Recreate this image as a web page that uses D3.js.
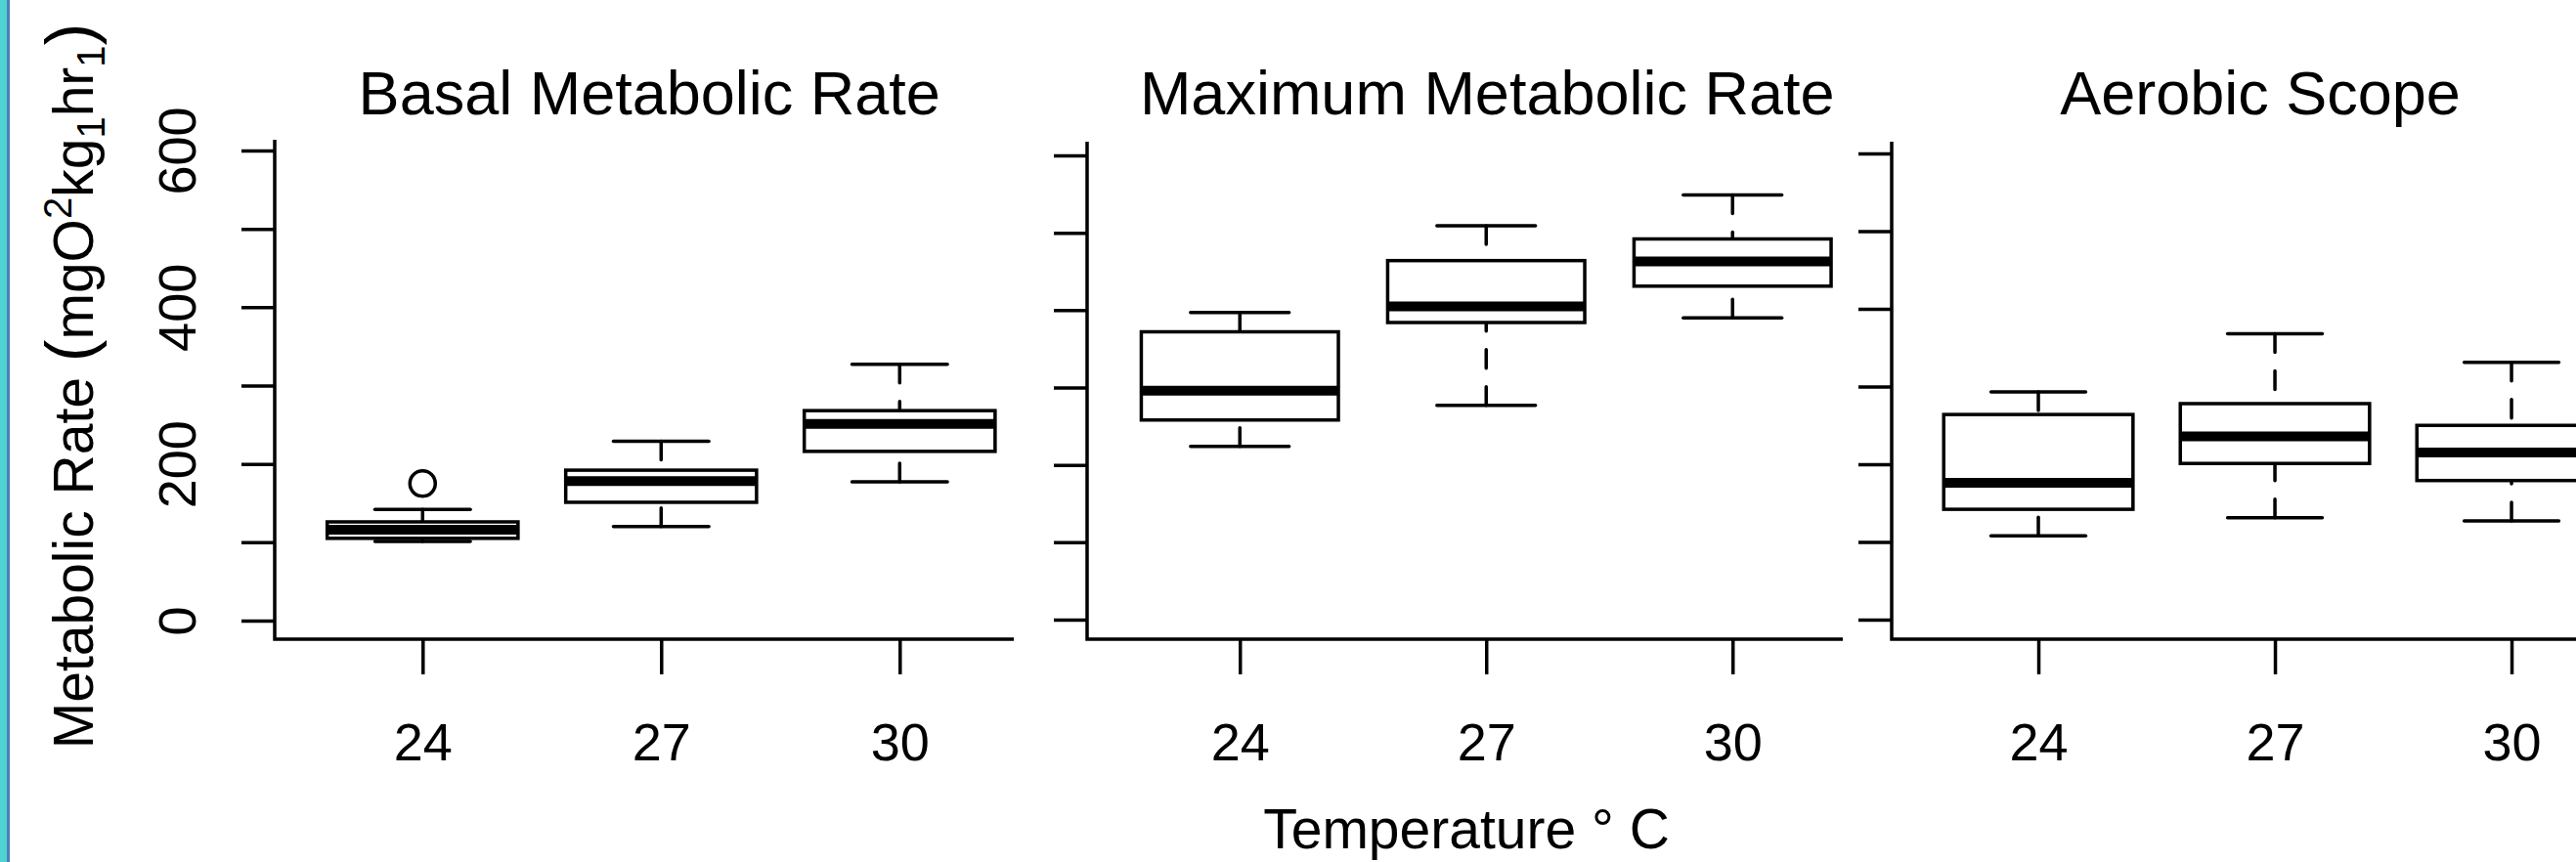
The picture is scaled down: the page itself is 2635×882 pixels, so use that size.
<!DOCTYPE html>
<meta charset='utf-8'>
<head>
  <title>Metabolic rate boxplots</title>
</head>

<style>
body {
  margin: 0;
  background: white;
}

text {
  font-family: "Liberation Sans", Arial, Helvetica, sans-serif;
  fill: black;
}

.tick line, .axis-line {
  stroke: black;
  stroke-width: 3.5px;
}

.whisker {
  stroke: black;
  stroke-width: 3.5px;
  stroke-dasharray: 19 19;
  stroke-linecap: round;
}

.staple {
  stroke: black;
  stroke-width: 3.5px;
  stroke-linecap: round;
}

.box {
  fill: white;
  stroke: black;
  stroke-width: 3.5px;
}

.median {
  stroke: black;
  stroke-width: 10px;
}

.outlier {
  fill: none;
  stroke: black;
  stroke-width: 3.5px;
}
</style>

<body>
  <svg width='2635' height='882'></svg>

  <script src='https://cdn.jsdelivr.net/npm/d3@7'></script>
  <script>
var temps = ['24', '27', '30'];
var panelTitles = ['Basal Metabolic Rate', 'Maximum Metabolic Rate', 'Aerobic Scope'];
var yTicks = [0, 100, 200, 300, 400, 500, 600];
var yTickLabels = {0: '0', 200: '200', 400: '400', 600: '600'};

// [lower whisker, Q1, median, Q3, upper whisker] per temperature
var basalStats = [[101, 105, 116, 126, 142], [120, 151, 178, 192, 229], [177, 216, 251, 268, 327]];
var basalOutliers = [[175], [], []];
var maxStats = [[224, 258, 296, 372, 397], [277, 384, 405, 464, 509], [390, 431, 463, 492, 549]];
var maxOutliers = [[], [], []];
var scopeStats = [[108, 142, 176, 264, 293], [131, 201, 236, 278, 368], [127, 179, 215, 250, 331]];
var scopeOutliers = [[], [], []];

var panelStats = [basalStats, maxStats, scopeStats];
var panelOutliers = [basalOutliers, maxOutliers, scopeOutliers];

// layout of the three plot regions (pixels)
var panels = [
  {left: 281, unit: 244, axisEnd: 1037, y0: 635, y600: 154, yTop: 143, titleShift: -12},
  {left: 1112, unit: 252, axisEnd: 1885, y0: 634, y600: 159, yTop: 145, titleShift: 1},
  {left: 1935, unit: 242, axisEnd: 2635, y0: 634, y600: 157, yTop: 145, titleShift: -15}
];
var axisY = 654;

var svg = d3.select('svg');

svg.append('rect').attr('width', 2635).attr('height', 882).attr('fill', 'white');

// coloured strip on the left edge
svg.append('rect').attr('x', 0).attr('y', 0).attr('width', 7).attr('height', 882).attr('fill', '#4fd3d0');
svg.append('rect').attr('x', 7).attr('y', 0).attr('width', 3).attr('height', 882).attr('fill', '#4b7fba');

panels.forEach(function(p, pi) {
  var x = d3.scaleLinear()
    .domain([1, 3])
    .range([p.left + 0.62 * p.unit, p.left + 2.62 * p.unit]);
  var y = d3.scaleLinear()
    .domain([0, 600])
    .range([p.y0, p.y600]);
  var hw = x(1.4) - x(1);

  var g = svg.append('g').attr('class', 'panel');

  // y axis
  var yAxis = d3.axisLeft(y)
    .tickValues(yTicks)
    .tickSize(34)
    .tickFormat(function(d) { return pi === 0 && yTickLabels[d] !== undefined ? yTickLabels[d] : ''; });

  var ya = g.append('g')
    .attr('transform', 'translate(' + p.left + ',0)')
    .call(yAxis);
  ya.select('.domain').remove();
  ya.selectAll('text')
    .attr('x', null).attr('dy', null)
    .attr('transform', 'translate(-81,0) rotate(-90)')
    .attr('text-anchor', 'middle')
    .style('font-size', '54px');

  // x axis
  var xAxis = d3.axisBottom(x)
    .tickValues([1, 2, 3])
    .tickSize(36)
    .tickFormat(function(d) { return temps[d - 1]; });

  var xa = g.append('g')
    .attr('transform', 'translate(0,' + axisY + ')')
    .call(xAxis);
  xa.select('.domain').remove();
  xa.selectAll('text')
    .attr('y', 124).attr('dy', null)
    .style('font-size', '54px');

  // L-shaped frame
  g.append('path')
    .attr('class', 'axis-line')
    .attr('fill', 'none')
    .attr('d', 'M' + p.left + ',' + p.yTop + 'V' + axisY + 'H' + p.axisEnd);

  // title
  g.append('text')
    .attr('x', x(2) + p.titleShift)
    .attr('y', 117)
    .attr('text-anchor', 'middle')
    .style('font-size', '63px')
    .text(panelTitles[pi]);

  // boxes
  var boxes = g.selectAll('g.bp')
    .data(panelStats[pi])
    .enter()
    .append('g')
    .attr('class', 'bp');

  boxes.append('line')
    .attr('class', 'whisker')
    .attr('x1', function(d, i) { return x(i + 1); })
    .attr('x2', function(d, i) { return x(i + 1); })
    .attr('y1', function(d) { return y(d[0]); })
    .attr('y2', function(d) { return y(d[1]); });

  boxes.append('line')
    .attr('class', 'whisker')
    .attr('x1', function(d, i) { return x(i + 1); })
    .attr('x2', function(d, i) { return x(i + 1); })
    .attr('y1', function(d) { return y(d[4]); })
    .attr('y2', function(d) { return y(d[3]); });

  [0, 4].forEach(function(k) {
    boxes.append('line')
      .attr('class', 'staple')
      .attr('x1', function(d, i) { return x(i + 1) - hw / 2; })
      .attr('x2', function(d, i) { return x(i + 1) + hw / 2; })
      .attr('y1', function(d) { return y(d[k]); })
      .attr('y2', function(d) { return y(d[k]); });
  });

  boxes.append('rect')
    .attr('class', 'box')
    .attr('x', function(d, i) { return x(i + 1) - hw; })
    .attr('width', 2 * hw)
    .attr('y', function(d) { return y(d[3]); })
    .attr('height', function(d) { return y(d[1]) - y(d[3]); });

  boxes.append('line')
    .attr('class', 'median')
    .attr('x1', function(d, i) { return x(i + 1) - hw; })
    .attr('x2', function(d, i) { return x(i + 1) + hw; })
    .attr('y1', function(d) { return y(d[2]); })
    .attr('y2', function(d) { return y(d[2]); });

  panelOutliers[pi].forEach(function(vals, i) {
    g.selectAll(null)
      .data(vals)
      .enter()
      .append('circle')
      .attr('class', 'outlier')
      .attr('cx', x(i + 1))
      .attr('cy', function(v) { return y(v); })
      .attr('r', 13);
  });
});

// y axis title
var yt = svg.append('text')
  .attr('transform', 'translate(95,395) rotate(-90)')
  .attr('text-anchor', 'middle')
  .style('font-size', '57px');
yt.append('tspan').text('Metabolic Rate ');
yt.append('tspan').style('font-size', '68px').text('(');
yt.append('tspan').text('mgO');
yt.append('tspan').attr('dy', -22).style('font-size', '40px').text('2');
yt.append('tspan').attr('dy', 22).text('kg');
yt.append('tspan').attr('dy', 12).style('font-size', '40px').text('1');
yt.append('tspan').attr('dy', -12).text('hr');
yt.append('tspan').attr('dy', 12).style('font-size', '40px').text('1');
yt.append('tspan').attr('dy', -12).style('font-size', '68px').text(')');

// x axis title
svg.append('text')
  .attr('x', 1500)
  .attr('y', 868)
  .attr('text-anchor', 'middle')
  .style('font-size', '57px')
  .text('Temperature \u00b0 C');
  </script>
</body>
</html>
